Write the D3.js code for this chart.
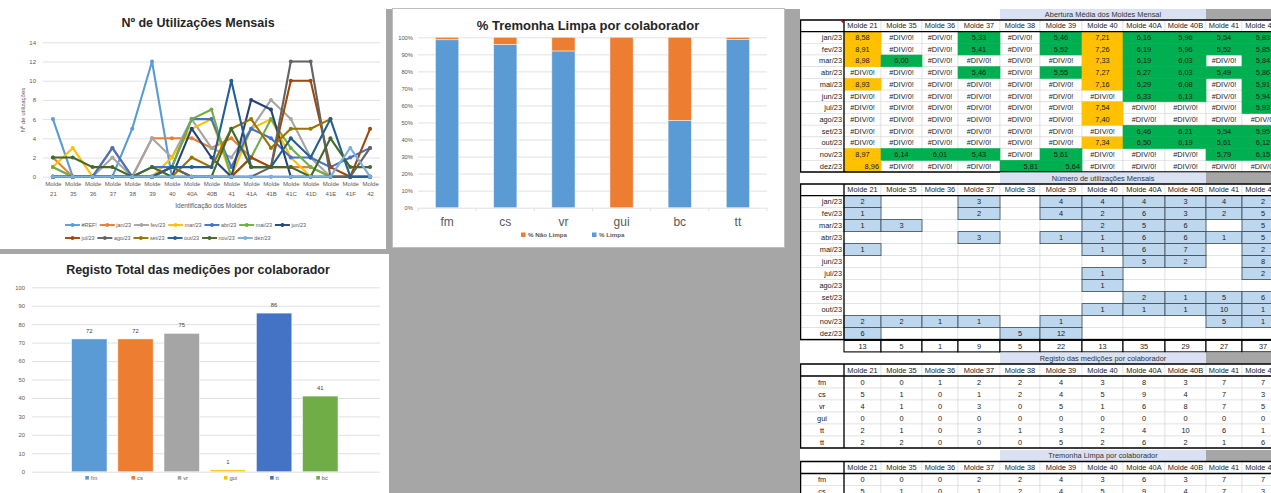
<!DOCTYPE html>
<html>
<head>
<meta charset="utf-8">
<script src="https://cdn.jsdelivr.net/npm/d3@7"></script>
<style>
body { margin: 0; background: #a6a6a6; overflow: hidden; }
svg { display: block; }
</style>
</head>
<body>
<svg id="chart" width="1271" height="493"></svg>
<script>
const FONT = "'Liberation Sans', Arial, sans-serif";

// ---- dados ----
const moldes = ["Molde 21","Molde 35","Molde 36","Molde 37","Molde 38","Molde 39","Molde 40","Molde 40A","Molde 40B","Molde 41","Molde 41A","Molde 41B","Molde 41C","Molde 41D","Molde 41E","Molde 41F","Molde 42"];
const meses = ["jan/23","fev/23","mar/23","abr/23","mai/23","jun/23","jul/23","ago/23","set/23","out/23","nov/23","dez/23"];

// utilizações mensais por molde (0 = célula vazia, null = sem valor)
const utilizacoes = [
  [2,0,0,3,0,4,4,4,3,4,2,1,1,1,0,0,0],
  [1,0,0,2,0,4,2,6,3,2,5,8,6,2,0,0,0],
  [1,3,0,0,0,0,2,5,6,0,5,6,2,0,0,0,0],
  [0,0,0,3,0,1,1,6,6,1,5,4,2,2,1,2,3],
  [1,0,0,0,0,0,1,6,7,0,2,6,3,1,0,0,0],
  [0,0,0,0,0,0,0,5,2,0,8,7,0,0,0,0,0],
  [0,0,0,0,0,0,1,0,0,0,2,1,10,10,1,0,5],
  [0,0,0,0,0,0,1,0,0,0,0,1,12,12,0,0,3],
  [0,0,0,0,0,0,0,2,1,5,6,3,5,5,6,null,null],
  [0,0,0,0,0,0,1,1,1,10,1,1,4,2,6,0,0],
  [2,2,1,1,0,1,0,0,0,5,1,1,1,0,4,1,1],
  [6,0,0,0,5,12,0,0,0,0,0,0,0,0,0,0,0]
];
// série "dez/23" do gráfico (a série #REF! mostra os valores de dezembro)
const serieDezGrafico = [0,0,0,0,0,0,0,0,0,0,0,0,0,0,0,3,0];
const seriesNomes = ["#REF!", ...meses];
const seriesCores = ["#5b9bd5","#ed7d31","#a5a5a5","#ffc000","#4472c4","#70ad47","#264478","#9e480e","#636363","#997300","#255e91","#43682b","#7cafdd"];

// abertura média (null = #DIV/0!)
const abertura = [
  [8.58,null,null,5.33,null,5.46,7.21,6.16,5.96,5.54,5.83],
  [8.91,null,null,5.41,null,5.52,7.26,6.19,5.96,5.52,5.85],
  [8.98,6.00,null,null,null,null,7.33,6.19,6.03,null,5.84],
  [null,null,null,5.46,null,5.55,7.27,6.27,6.03,5.49,5.86],
  [8.93,null,null,null,null,null,7.16,6.29,6.08,null,5.91],
  [null,null,null,null,null,null,null,6.33,6.13,null,5.94],
  [null,null,null,null,null,null,7.54,null,null,null,5.93],
  [null,null,null,null,null,null,7.40,null,null,null,null],
  [null,null,null,null,null,null,null,6.46,6.21,5.54,5.95],
  [null,null,null,null,null,null,7.34,6.50,6.19,5.61,6.12],
  [8.97,6.14,6.01,5.43,null,5.61,null,null,null,5.79,6.15],
  [8.96,null,null,null,5.81,5.64,null,null,null,null,null]
];

const registoLabels = ["fm","cs","vr","gui","tt","tt"];
const registoMedicoes = [
  [0,0,1,2,2,4,3,8,3,7,7],
  [5,1,0,1,2,4,5,9,4,7,3],
  [4,1,0,3,0,5,1,6,8,7,5],
  [0,0,0,0,0,0,0,0,0,0,0],
  [2,1,0,3,1,3,2,4,10,6,1],
  [2,2,0,0,0,5,2,6,2,1,6]
];
const tremonhaLabels = ["fm","cs"];
const tremonhaLimpa = [
  [0,0,0,2,2,4,3,6,3,7,7],
  [5,1,0,1,2,4,5,9,4,7,3]
];

const colaboradores = ["fm","cs","vr","gui","tt","bc"];
const registoTotal = [72,72,75,1,86,41];
const coresColab = ["#5b9bd5","#ed7d31","#a5a5a5","#ffc000","#4472c4","#70ad47"];

const tremonhaCat = ["fm","cs","vr","gui","bc","tt"];
const pctLimpa = [0.986,0.958,0.92,0,0.512,0.988];

// ---- fundo / painéis ----
const svg = d3.select("#chart").attr("font-family", FONT);
svg.append("rect").attr("width",1271).attr("height",493).attr("fill","#a6a6a6");
svg.append("rect").attr("width",1271).attr("height",9).attr("fill","#fff");
svg.append("rect").attr("x",0).attr("y",0).attr("width",386).attr("height",249).attr("fill","#fff");
svg.append("rect").attr("x",392.5).attr("y",8.5).attr("width",392).attr("height",239).attr("fill","#fff").attr("stroke","#bfbfbf");
svg.append("rect").attr("x",0).attr("y",254).attr("width",389).attr("height",239).attr("fill","#fff");
svg.append("rect").attr("x",800).attr("y",9).attr("width",471).attr("height",484).attr("fill","#fff");

function styleAxis(g, size){
  g.attr("font-family", FONT).attr("font-size", size);
  g.select(".domain").remove();
  g.selectAll(".tick line").attr("stroke","#d9d9d9").attr("stroke-width",0.8);
  g.selectAll(".tick text").attr("fill","#595959");
}

// ---- gráfico 1: linhas ----
const gA = svg.append("g");
const xA = d3.scalePoint().domain(moldes).range([43,380]).padding(0.5);
const yA = d3.scaleLinear().domain([0,14]).range([176.7,42.3]);

gA.append("g").attr("transform","translate(43,0)")
  .call(d3.axisLeft(yA).ticks(7).tickSize(-337).tickPadding(7))
  .call(g => styleAxis(g, 6));

const xAxA = gA.append("g").attr("transform",`translate(0,${yA(0)})`)
  .call(d3.axisBottom(xA).tickSize(0))
  .call(g => styleAxis(g, 6));
xAxA.selectAll(".tick text").each(function(d){
  const t = d3.select(this).text(null).attr("dy",null).attr("y",null);
  const p = d.split(" ");
  t.append("tspan").attr("x",0).attr("y",9.8).text(p[0]);
  t.append("tspan").attr("x",0).attr("y",19.4).text(p[1]);
});

gA.append("text").attr("x",198).attr("y",23).attr("dy","0.35em").attr("text-anchor","middle")
  .attr("font-size",12.5).attr("font-weight","bold").attr("fill","#262626").text("Nº de Utilizações Mensais");
gA.append("text").attr("transform","translate(23,110) rotate(-90)").attr("text-anchor","middle")
  .attr("dy","0.35em").attr("font-size",6).attr("fill","#595959").text("Nº de utilizações");
gA.append("text").attr("x",211).attr("y",205.5).attr("dy","0.35em").attr("text-anchor","middle")
  .attr("font-size",6.5).attr("fill","#595959").text("Identificação dos Moldes");

const seriesValores = [utilizacoes[11], ...utilizacoes.slice(0,11), serieDezGrafico];
const linhaA = d3.line().defined(d => d.v != null).x(d => xA(d.m)).y(d => yA(d.v));
seriesValores.forEach((vals, s) => {
  const pts = vals.map((v,i) => ({m: moldes[i], v}));
  gA.append("path").datum(pts).attr("d", linhaA).attr("fill","none")
    .attr("stroke", seriesCores[s]).attr("stroke-width",2.1).attr("stroke-linejoin","round");
  gA.append("g").selectAll("circle").data(pts.filter(d => d.v != null)).join("circle")
    .attr("cx", d => xA(d.m)).attr("cy", d => yA(d.v)).attr("r",2).attr("fill", seriesCores[s]);
});

// legenda
[[0,7,225],[7,13,238]].forEach(([a,b,y]) => {
  let x = 65;
  for (let s = a; s < b; s++) {
    const it = gA.append("g").attr("transform",`translate(${x},${y})`);
    it.append("line").attr("x1",0).attr("x2",15).attr("stroke",seriesCores[s]).attr("stroke-width",1.9);
    it.append("circle").attr("cx",7.5).attr("r",1.9).attr("fill",seriesCores[s]);
    const t = it.append("text").attr("x",16.5).attr("dy","0.35em").attr("font-size",5.4).attr("fill","#595959").text(seriesNomes[s]);
    x += 16.5 + t.node().getComputedTextLength() + 3;
  }
});

// ---- gráfico 2: % tremonha limpa ----
const gB = svg.append("g");
const xB = d3.scaleBand().domain(tremonhaCat).range([418,767]);
const yB = d3.scaleLinear().domain([0,1]).range([207.7,37.3]);

gB.append("g").attr("transform","translate(418,0)")
  .call(d3.axisLeft(yB).ticks(10,".0%").tickSize(-349).tickPadding(5))
  .call(g => styleAxis(g, 5.8));

gB.append("g").attr("transform",`translate(0,${yB(0)})`)
  .call(d3.axisBottom(xB).tickSize(0).tickPadding(10))
  .call(g => styleAxis(g, 12));
gB.append("g").selectAll("line").data([...tremonhaCat.map(c => xB(c)), 767]).join("line")
  .attr("x1", d => d).attr("x2", d => d).attr("y1", yB(0)).attr("y2", yB(0)+3.5)
  .attr("stroke","#d9d9d9").attr("stroke-width",0.8);

const bwB = xB.bandwidth()*0.4;
gB.append("g").selectAll("rect").data(tremonhaCat).join("rect")
  .attr("x", c => xB(c) + xB.bandwidth()*0.3).attr("width", bwB)
  .attr("y", (c,i) => yB(pctLimpa[i])).attr("height", (c,i) => yB(0) - yB(pctLimpa[i]))
  .attr("fill","#5b9bd5").attr("stroke","#fff").attr("stroke-opacity",0.6).attr("stroke-width",0.8);
gB.append("g").selectAll("rect").data(tremonhaCat).join("rect")
  .attr("x", c => xB(c) + xB.bandwidth()*0.3).attr("width", bwB)
  .attr("y", yB(1)).attr("height", (c,i) => yB(pctLimpa[i]) - yB(1))
  .attr("fill","#ed7d31").attr("stroke","#fff").attr("stroke-opacity",0.6).attr("stroke-width",0.8);

gB.append("text").attr("x",588).attr("y",25).attr("dy","0.35em").attr("text-anchor","middle")
  .attr("font-size",13).attr("font-weight","bold").attr("fill","#262626").text("%  Tremonha Limpa por colaborador");
[["% Não Limpa","#ed7d31",521],["% Limpa","#5b9bd5",592]].forEach(([n,c,x]) => {
  gB.append("rect").attr("x",x).attr("y",232.5).attr("width",4.5).attr("height",4.5).attr("fill",c);
  gB.append("text").attr("x",x+7).attr("y",235).attr("dy","0.35em").attr("font-size",6.2)
    .attr("font-weight","bold").attr("fill","#595959").text(n);
});

// ---- gráfico 3: registo total ----
const gC = svg.append("g");
const xC = d3.scaleBand().domain(colaboradores).range([66.2,343.4]).paddingInner(0.234).paddingOuter(0.117);
const yC = d3.scaleLinear().domain([0,100]).range([471.7,287.3]);

gC.append("g").attr("transform","translate(32,0)")
  .call(d3.axisLeft(yC).ticks(10).tickSize(-348).tickPadding(7))
  .call(g => styleAxis(g, 5.8));

gC.append("g").selectAll("rect").data(colaboradores).join("rect")
  .attr("x", c => xC(c)).attr("width", xC.bandwidth())
  .attr("y", (c,i) => yC(registoTotal[i])).attr("height", (c,i) => yC(0) - yC(registoTotal[i]))
  .attr("fill", (c,i) => coresColab[i]).attr("stroke","#fff").attr("stroke-opacity",0.6).attr("stroke-width",0.8);
gC.append("g").selectAll("text").data(colaboradores).join("text")
  .attr("x", c => xC(c) + xC.bandwidth()/2).attr("y", (c,i) => yC(registoTotal[i]) - 6)
  .attr("text-anchor","middle").attr("font-size",5.8).attr("fill","#404040")
  .text((c,i) => registoTotal[i]);

gC.append("text").attr("x",198).attr("y",270).attr("dy","0.35em").attr("text-anchor","middle")
  .attr("font-size",12.5).attr("font-weight","bold").attr("fill","#262626").text("Registo Total das medições por colaborador");
colaboradores.forEach((c,i) => {
  const x = xC(c) + xC.bandwidth()/2 - 4;
  gC.append("rect").attr("x",x).attr("y",476).attr("width",3.6).attr("height",3.6).attr("fill",coresColab[i]);
  gC.append("text").attr("x",x+5.5).attr("y",478).attr("dy","0.35em").attr("font-size",5.8).attr("fill","#595959").text(c);
});

// ---- tabelas ----
const colEdges = [800,844,881,922,958,1000,1040,1082,1123,1165,1206,1242,1284];
const tabMoldes = moldes.slice(0,11);
const fmtPT = d3.formatLocale({decimal:",", thousands:".", grouping:[3], currency:["","€"]}).format(".2f");
const gT = svg.append("g").attr("font-size",7.4).attr("fill","#1a1a1a");

function faixa(y, h, titulo){
  gT.append("rect").attr("x",1000).attr("y",y).attr("width",206).attr("height",h).attr("fill","#d9e1f2");
  gT.append("rect").attr("x",1206).attr("y",y).attr("width",65).attr("height",h).attr("fill","#a6a6a6");
  gT.append("text").attr("x",1103).attr("y",y+h/2).attr("dy","0.35em").attr("text-anchor","middle")
    .attr("fill","#333").text(titulo);
}

function celula(x0, x1, y, h, c){
  gT.append("rect").attr("x",x0).attr("y",y).attr("width",x1-x0).attr("height",h)
    .attr("fill", c.fill || "#fff").attr("stroke", c.stroke || "#dadada").attr("stroke-width", c.sw || 0.6);
  if (c.text == null || c.text === "") return;
  const right = c.align === "end";
  gT.append("text").attr("x", right ? x1-2 : (x0+x1)/2).attr("y", y+h/2).attr("dy","0.35em")
    .attr("text-anchor", right ? "end" : "middle").text(c.text);
}

function tabela(top, headH, rowH, labels, labelCentro, cellFn){
  const bottom = top + headH + labels.length*rowH;
  celula(800, 844, top, headH, {});
  tabMoldes.forEach((m,j) => celula(colEdges[j+1], colEdges[j+2], top, headH, {text: m}));
  const destaque = [];
  labels.forEach((lab,i) => {
    const y = top + headH + i*rowH;
    celula(800, 844, y, rowH, {});
    gT.append("text").attr("x", labelCentro ? 822 : 842).attr("y", y+rowH/2).attr("dy","0.35em")
      .attr("text-anchor", labelCentro ? "middle" : "end").text(lab);
    tabMoldes.forEach((m,j) => {
      const c = cellFn(i,j);
      if (c.fill) destaque.push([j,y,c]); else celula(colEdges[j+1], colEdges[j+2], y, rowH, c);
    });
  });
  destaque.forEach(([j,y,c]) => celula(colEdges[j+1], colEdges[j+2], y, rowH, c));
  gT.append("rect").attr("x",800.5).attr("y",top).attr("width",500).attr("height",bottom-top)
    .attr("fill","none").attr("stroke","#000").attr("stroke-width",1.5);
  gT.append("line").attr("x1",800).attr("x2",1271).attr("y1",top+headH).attr("y2",top+headH).attr("stroke","#000").attr("stroke-width",1.3);
  gT.append("line").attr("x1",844).attr("x2",844).attr("y1",top).attr("y2",bottom).attr("stroke","#000").attr("stroke-width",1.3);
  return bottom;
}

// abertura média
faixa(9, 11, "Abertura Média dos Moldes Mensal");
tabela(20, 11.6, 11.7, meses, false, (i,j) => {
  const v = abertura[i][j];
  if (v == null) return {text: "#DIV/0!"};
  const cor = v > 7 ? "#ffc000" : "#00b050";
  return {text: fmtPT(v), fill: cor, stroke: cor, align: i === 11 ? "end" : "middle"};
});
gT.append("path").attr("d","M840.5,20.8 L843.5,20.8 L843.5,23.8 Z").attr("fill","#e00000");

// número de utilizações
faixa(172.4, 11.6, "Número de utilizações Mensais");
const fimUtil = tabela(184, 11.6, 12, meses, false, (i,j) => {
  const v = utilizacoes[i][j];
  return v ? {text: v, fill: "#bdd7ee", stroke: "#3f4a55", sw: 0.8} : {};
});
tabMoldes.forEach((m,j) => {
  celula(colEdges[j+1], colEdges[j+2], fimUtil+0.8, 11.5,
    {text: d3.sum(utilizacoes, r => r[j]), stroke: "#000", sw: 1.1});
});

// registo das medições
faixa(352.5, 11.5, "Registo das medições por colaborador");
tabela(364, 12, 12, registoLabels, true, (i,j) => ({text: registoMedicoes[i][j]}));

// tremonha limpa
faixa(450, 11.5, "Tremonha Limpa por colaborador");
tabela(461.5, 12, 12, tremonhaLabels, true, (i,j) => ({text: tremonhaLimpa[i][j]}));

// faixa cinzenta entre gráfico e folha
svg.append("rect").attr("x",785).attr("y",9).attr("width",15).attr("height",484).attr("fill","#a6a6a6");
</script>
</body>
</html>
